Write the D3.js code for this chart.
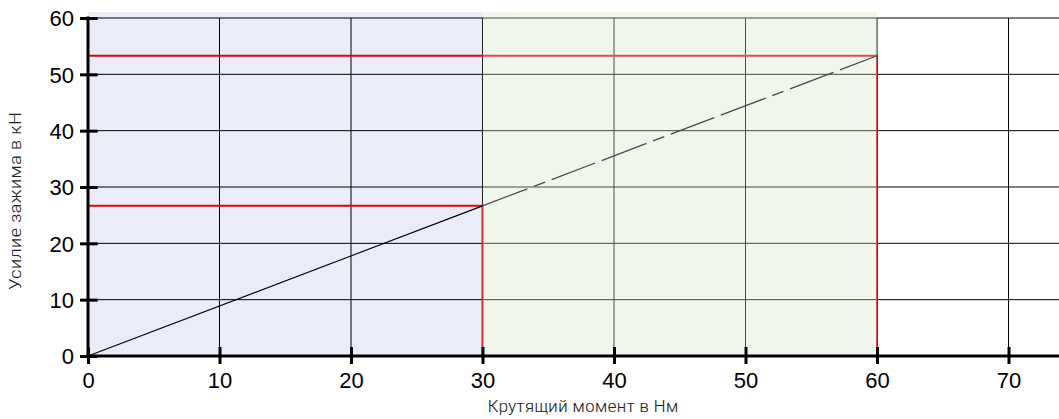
<!DOCTYPE html>
<html><head><meta charset="utf-8">
<script src="https://cdn.jsdelivr.net/npm/d3@7"></script>
<style>
html,body{margin:0;padding:0;background:#fff;}
svg{display:block;}
.tick text{font-family:"Liberation Sans",Arial,sans-serif;font-size:22px;fill:#000;}
.title{font-family:"Liberation Sans Narrow","Roboto Condensed",Roboto,sans-serif;font-size:17px;font-weight:300;fill:#222;}
</style></head>
<body>
<svg id="c" width="1059" height="419"></svg>
<script>
// Data
const xTicks = [0,10,20,30,40,50,60,70];
const yTicks = [0,10,20,30,40,50,60];
const torque = [0, 30, 60];          // Нм
const force  = [0, 26.65, 53.3];     // кН
const zones  = [ {from:0, to:30, color:"#eaecf8"}, {from:30, to:60, color:"#eff6ec"} ];
const xTitle = "Крутящий момент в Нм";
const yTitle = "Усилие зажима в кН";

const svg = d3.select("#c");
const x = d3.scaleLinear().domain([0, 73.84]).range([88, 1059]);
const y = d3.scaleLinear().domain([0, 60]).range([356, 18]);
const bgTop = y(60) - 6;

// Background zones
svg.selectAll("rect.zone").data(zones).enter().append("rect")
  .attr("class","zone")
  .attr("x", d => x(d.from)).attr("y", bgTop)
  .attr("width", d => x(d.to) - x(d.from))
  .attr("height", y(0) - bgTop)
  .attr("fill", d => d.color);

// Grid
svg.append("g").selectAll("line").data(yTicks.filter(v => v > 0)).enter().append("line")
  .attr("x1", x(0)).attr("x2", x.range()[1])
  .attr("y1", d => y(d)).attr("y2", d => y(d))
  .attr("stroke", "#000").attr("stroke-width", 1);
svg.append("g").selectAll("line").data(xTicks.filter(v => v > 0)).enter().append("line")
  .attr("x1", d => x(d)).attr("x2", d => x(d))
  .attr("y1", y(60)).attr("y2", y(0))
  .attr("stroke", "#000").attr("stroke-width", 1);

// Red reference lines
const red = "#e3000f";
[1, 2].forEach(i => {
  svg.append("path")
    .attr("d", d3.line()([[x(0), y(force[i])], [x(torque[i]), y(force[i])], [x(torque[i]), y(0)]]))
    .attr("fill", "none").attr("stroke", red).attr("stroke-width", 2);
});

// Data line: solid then dashed
const pts = torque.map((t, i) => [x(t), y(force[i])]);
svg.append("path").attr("d", d3.line()(pts.slice(0, 2)))
  .attr("fill","none").attr("stroke","#000").attr("stroke-width",1.1);
svg.append("path").attr("d", d3.line()(pts.slice(1, 3)))
  .attr("fill","none").attr("stroke","#000").attr("stroke-width",1.3)
  .attr("stroke-dasharray","48,7,12,7,46.5,7");

// Translucent overlay over the second zone (tints the lines)
svg.append("rect")
  .attr("x", x(zones[1].from)).attr("y", bgTop)
  .attr("width", x(zones[1].to) - x(zones[1].from))
  .attr("height", y(0) - bgTop)
  .attr("fill", zones[1].color).attr("opacity", 0.3);

// Axes
const yAxis = svg.append("g").attr("transform", `translate(${x(0)},0)`)
  .call(d3.axisLeft(y).tickValues(yTicks).tickSizeInner(8).tickSizeOuter(0).tickPadding(7));
const xAxis = svg.append("g").attr("transform", `translate(0,${y(0)})`)
  .call(d3.axisBottom(x).tickValues(xTicks).tickSizeInner(8).tickSizeOuter(0).tickPadding(7));
[yAxis, xAxis].forEach(g => {
  g.select(".domain").attr("stroke","#000").attr("stroke-width",3);
  g.selectAll(".tick line").attr("stroke","#000").attr("stroke-width",3);
});
yAxis.selectAll(".tick line").attr("x1", 9.7);
yAxis.select(".domain").attr("d", `M0,${y(60)-1.5}V${y(0)+1.5}`);
yAxis.selectAll(".tick text").attr("x", -14).attr("dy", "0.35em");
xAxis.selectAll(".tick line").attr("y1", -9).attr("y2", 8);
xAxis.selectAll(".tick text").attr("y", 32).attr("dy", 0);
xAxis.select(".domain").attr("d", `M${x(0)-1.5},0H${x.range()[1]}`);

// Titles
svg.append("text").attr("class","title")
  .attr("x", 583).attr("y", 412).attr("text-anchor","middle")
  .attr("textLength", 191).attr("lengthAdjust","spacingAndGlyphs")
  .text(xTitle);
svg.append("text").attr("class","title")
  .attr("transform", "translate(21,201) rotate(-90)")
  .attr("text-anchor","middle")
  .attr("textLength", 178).attr("lengthAdjust","spacingAndGlyphs")
  .text(yTitle);
</script>
</body></html>
